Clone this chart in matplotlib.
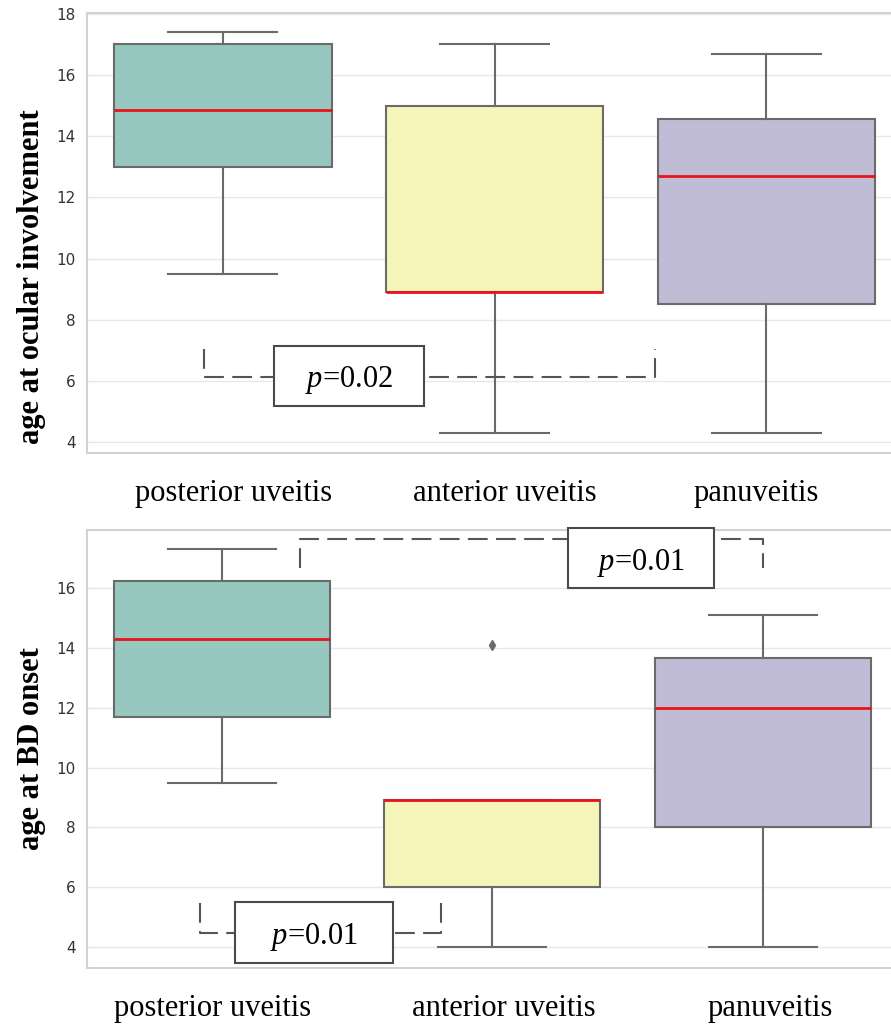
import matplotlib
matplotlib.use("Agg")
import matplotlib.pyplot as plt
import matplotlib.transforms as mtransforms
from matplotlib.patches import Rectangle

# groups along the x axis
categories = ["posterior uveitis", "anterior uveitis", "panuveitis"]
box_colors = ["#96c8bf", "#f5f4b9", "#c0bcd5"]

# top panel: age at ocular involvement (five-number summaries)
ocular_low = [9.5, 4.3, 4.3]
ocular_q1 = [13.0, 8.9, 8.5]
ocular_med = [14.85, 8.9, 12.7]
ocular_q3 = [17.0, 15.0, 14.55]
ocular_high = [17.4, 17.0, 16.7]
ocular_fliers = [[], [], []]

# bottom panel: age at BD onset
onset_low = [9.5, 4.0, 4.0]
onset_q1 = [11.7, 6.0, 8.0]
onset_med = [14.3, 8.9, 12.0]
onset_q3 = [16.25, 8.9, 13.65]
onset_high = [17.3, 8.9, 15.1]
onset_fliers = [[], [14.1], []]

plt.rcParams["mathtext.fontset"] = "custom"
plt.rcParams["mathtext.rm"] = "Liberation Serif"
plt.rcParams["mathtext.it"] = "Liberation Serif:italic"

EDGE = "#6a6a6a"
SERIF = "Liberation Serif"


def make_stats(low, q1, med, q3, high, fliers):
    stats = []
    for i in range(len(categories)):
        stats.append({"whislo": low[i], "q1": q1[i], "med": med[i],
                      "q3": q3[i], "whishi": high[i], "fliers": fliers[i],
                      "label": categories[i]})
    return stats


def draw_panel(ax, stats, ylim, yticks, ylabel, label_y, label_shift):
    bp = ax.bxp(stats, positions=range(len(categories)), widths=0.8,
                capwidths=0.4, patch_artist=True,
                boxprops=dict(edgecolor=EDGE, linewidth=1.5),
                whiskerprops=dict(color=EDGE, linewidth=1.5),
                capprops=dict(color=EDGE, linewidth=1.5),
                medianprops=dict(color="#e8141a", linewidth=2, zorder=5),
                flierprops=dict(marker="d", markerfacecolor=EDGE,
                                markeredgecolor=EDGE, markersize=5))
    for patch, c in zip(bp["boxes"], box_colors):
        patch.set_facecolor(c)
    ax.set_xlim(-0.5, 2.5)
    ax.set_ylim(*ylim)
    ax.set_yticks(yticks)
    ax.set_axisbelow(True)
    ax.grid(axis="y", color="#e8e8e8", linewidth=1)
    for s in ax.spines.values():
        s.set_color("#d2d2d2")
        s.set_linewidth(1.5)
    ax.tick_params(axis="both", length=0)
    ax.tick_params(axis="y", labelsize=11, labelcolor="#333333", pad=8)
    ax.tick_params(axis="x", pad=19)
    # the labels in the original sit a little off the box centres
    for t, dx in zip(ax.get_xticklabels(), label_shift):
        t.set_fontfamily(SERIF)
        t.set_fontsize(22)
        t.set_transform(t.get_transform() + mtransforms.ScaledTranslation(
            dx / 100, 0, ax.figure.dpi_scale_trans))
    ax.set_ylabel(ylabel, fontfamily=SERIF, fontweight="bold", fontsize=22)
    ax.yaxis.set_label_coords(-0.05, label_y)


def bracket(ax, x0, x1, y_end, y_line, box, ptext):
    ax.plot([x0, x0, x1, x1], [y_end, y_line, y_line, y_end],
            color="#555555", linewidth=1.5, linestyle=(0, (9.5, 4)),
            clip_on=False, zorder=6)
    bx0, bx1, by0, by1 = box
    ax.add_patch(Rectangle((bx0, by0), bx1 - bx0, by1 - by0,
                           facecolor="white", edgecolor="#4a4a4a",
                           linewidth=1.5, clip_on=False, zorder=7))
    ax.text((bx0 + bx1) / 2, (by0 + by1) / 2, ptext, fontsize=22,
            fontfamily=SERIF, ha="center", va="center_baseline", zorder=8)


fig = plt.figure(figsize=(8.91, 10.24), dpi=100)
ax1 = fig.add_axes([0.0976, 0.5576, 0.915, 0.4297])
ax2 = fig.add_axes([0.0976, 0.0547, 0.910, 0.4277])

draw_panel(ax1, make_stats(ocular_low, ocular_q1, ocular_med, ocular_q3,
                           ocular_high, ocular_fliers),
           (3.64, 18.03), [4, 6, 8, 10, 12, 14, 16, 18],
           "age at ocular involvement", 0.40, [11, 10, -10])
draw_panel(ax2, make_stats(onset_low, onset_q1, onset_med, onset_q3,
                           onset_high, onset_fliers),
           (3.30, 17.94), [4, 6, 8, 10, 12, 14, 16],
           "age at BD onset", 0.5, [-10, 11, 8])

bracket(ax1, -0.07, 1.59, 7.05, 6.13, (0.19, 0.74, 5.18, 7.15), r"$p$=0.02")
bracket(ax2, -0.08, 0.81, 5.46, 4.46, (0.046, 0.634, 3.46, 5.5), r"$p$=0.01")
bracket(ax2, 0.29, 2.0, 16.67, 17.64, (1.28, 1.82, 16.0, 18.0), r"$p$=0.01")

fig.savefig("out.png", dpi=100)
